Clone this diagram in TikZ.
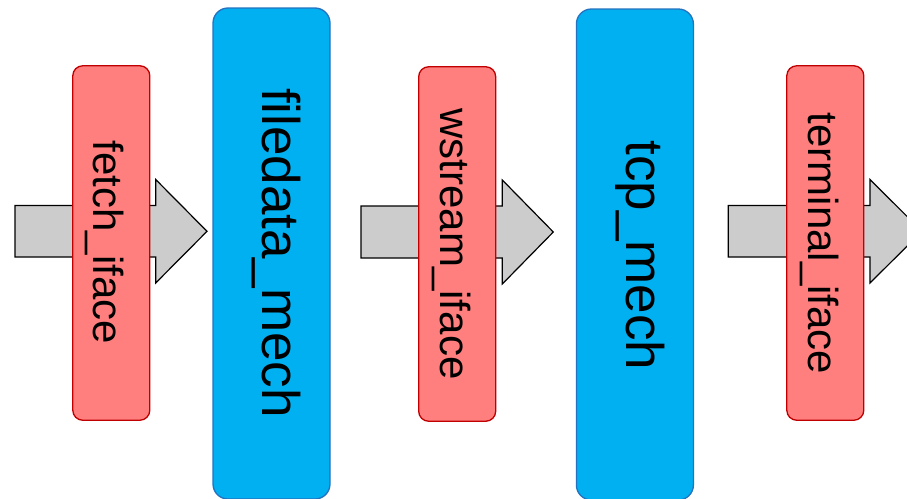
\documentclass[tikz,border=0pt]{standalone}
\usepackage{fontspec}
\setmainfont{Liberation Sans}
\definecolor{ifacefill}{HTML}{FF7F7F}
\definecolor{ifacedraw}{HTML}{C00000}
\definecolor{mechfill}{HTML}{00B0F0}
\definecolor{mechdraw}{HTML}{2472C0}
\definecolor{arrowfill}{HTML}{CCCCCC}
\tikzset{
  ifacebox/.style={draw=ifacedraw, fill=ifacefill, line width=1.3pt, rounded corners=10pt,
    rectangle, inner sep=0pt, outer sep=0pt, minimum width=77pt, minimum height=354.5pt},
  mechbox/.style={draw=mechdraw, fill=mechfill, line width=1.3pt, rounded corners=15pt,
    rectangle, inner sep=0pt, outer sep=0pt, minimum width=117pt, minimum height=491pt},
  ifacetext/.style={rotate=-90, anchor=base, inner sep=0pt, font=\fontsize{42}{50}\selectfont},
  mechtext/.style={rotate=-90, anchor=base, inner sep=0pt, font=\fontsize{53}{60}\selectfont},
  blockarrow/.style={draw=black, fill=arrowfill, line width=1.2pt, line join=miter}
}
\begin{document}
\begin{tikzpicture}[x=1pt, y=1pt]
\useasboundingbox (0,0) rectangle (907,-498);
\clip (0,0) rectangle (907,-498);
% block arrows
\draw[blockarrow] (15,-205.5) -- (155.7,-205.5) -- (155.7,-179.5) -- (207,-231.3)
  -- (155.7,-283) -- (155.7,-257) -- (15,-257) -- cycle;
\draw[blockarrow] (361,-206) -- (502.3,-206) -- (502.3,-180) -- (553.3,-232)
  -- (502.3,-284) -- (502.3,-258) -- (361,-258) -- cycle;
\draw[blockarrow] (728.3,-205.5) -- (870,-205.5) -- (870,-179.5) -- (922,-231.3)
  -- (870,-283) -- (870,-257) -- (728.3,-257) -- cycle;
% interface boxes
\node[ifacebox] (b1) at (111.3,-243) {};
\node[ifacebox] (b2) at (457.2,-244) {};
\node[ifacebox] (b3) at (825.3,-243) {};
% mechanism boxes
\node[mechbox] (m1) at (271.5,-253.5) {};
\node[mechbox] (m2) at (634.9,-254.5) {};
% texts
\node[ifacetext] (t1) at (93.8,-242.5) {fetch\_iface};
\node[ifacetext] (t2) at (440,-244) {wstream\_iface};
\node[ifacetext] (t3) at (808.3,-243.5) {terminal\_iface};
\node[mechtext] (u1) at (262,-253) {filedata\_mech};
\node[mechtext] (u2) at (626,-255.5) {tcp\_mech};
\end{tikzpicture}
\end{document}
